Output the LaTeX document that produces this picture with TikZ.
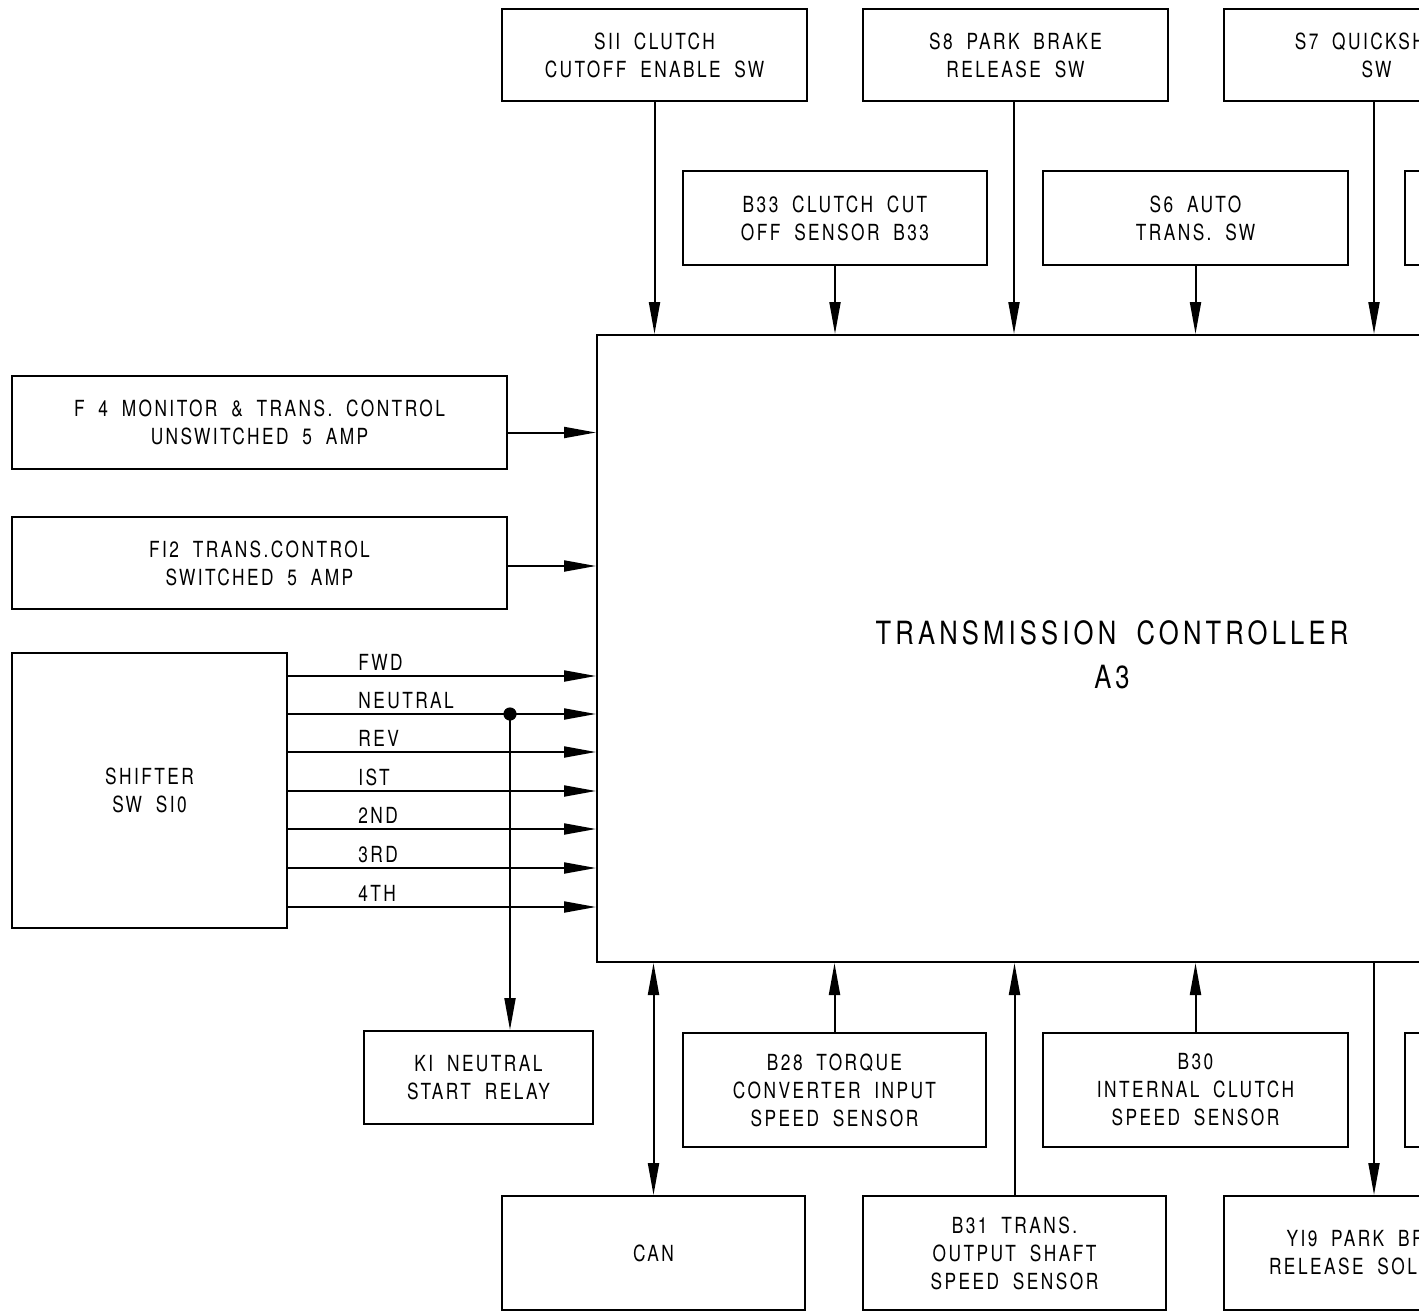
\documentclass[tikz,border=0pt]{standalone}
\usepackage{fontspec}
\setmainfont{TeX Gyre Heros}[FakeStretch=0.78, LetterSpace=11, WordSpace=1.9]
\newfontfamily\titlefont{TeX Gyre Heros}[FakeStretch=0.8, LetterSpace=13, WordSpace=1.8]
\usetikzlibrary{arrows.meta}

\tikzset{
  blk/.style={draw, line width=1pt, align=center, inner sep=0pt,
    font=\fontsize{11.1}{14}\selectfont},
  w305/.style={minimum width=152.5pt},
  lbl/.style={inner sep=0pt, font=\fontsize{11.1}{14}\selectfont},
  sig/.style={line width=1pt, -{Triangle[length=16pt,width=5.5pt]}},
  bus/.style={line width=1pt, {Triangle[length=16pt,width=5.5pt]}-{Triangle[length=16pt,width=5.5pt]}},
}

\begin{document}
\begin{tikzpicture}[x=0.5pt, y=-0.5pt]
\useasboundingbox (0,0) rectangle (1419,1311);
\clip (0,0) rectangle (1419,1311);

% controller
\node[draw, line width=1pt, minimum width=515pt, minimum height=313.5pt] (main) at (1112,648.5) {};
\node[inner sep=0pt, align=center, font=\titlefont\fontsize{16}{22}\selectfont] (title) at (1112,655)
  {TRANSMISSION CONTROLLER\\A3};

% top row inputs
\node[blk, w305, minimum height=46pt] (s11) at (654.5,55) {SII CLUTCH\\CUTOFF ENABLE SW};
\node[blk, w305, minimum height=46pt] (s8) at (1015.5,55) {S8 PARK BRAKE\\RELEASE SW};
\node[blk, w305, minimum height=46pt] (s7) at (1376.5,55) {S7 QUICKSHIFT\\SW};
\node[blk, minimum width=152pt, minimum height=47pt] (b33) at (835,218) {B33 CLUTCH CUT\\OFF SENSOR B33};
\node[blk, w305, minimum height=47pt] (s6) at (1195.5,218) {S6 AUTO\\TRANS. SW};
\node[blk, w305, minimum height=47pt] (rtop) at (1557.5,218) {};

\draw[sig] (s11.south) -- (s11.south |- main.north);
\draw[sig] (b33.south) -- (b33.south |- main.north);
\draw[sig] (s8.south -| 1014,0) -- (1014,0 |- main.north);
\draw[sig] (s6.south) -- (s6.south |- main.north);
\draw[sig] (s7.south -| 1374,0) -- (1374,0 |- main.north);

% fuses
\node[blk, minimum width=247.5pt, minimum height=46.5pt] (f4) at (259.5,422.5) {F 4 MONITOR \& TRANS. CONTROL\\UNSWITCHED 5 AMP};
\node[blk, minimum width=247.5pt, minimum height=46pt] (f12) at (259.5,563) {FI2 TRANS.CONTROL\\SWITCHED 5 AMP};
\draw[sig] ([yshift=-5pt]f4.east) -- ([yshift=-5pt]f4.east -| main.west);
\draw[sig] ([yshift=-1.5pt]f12.east) -- ([yshift=-1.5pt]f12.east -| main.west);

% shifter
\node[blk, minimum width=137.5pt, minimum height=137.5pt] (shift) at (149.5,790.5) {SHIFTER\\SW SI0};
\foreach \n/\yy/\t in {fwd/676/FWD, neu/714/NEUTRAL, rev/752/REV, g1/791/IST, g2/829/2ND, g3/868/3RD, g4/907/4TH}{
  \coordinate (\n) at (shift.east |- 0,\yy);
  \draw[sig] (\n) -- (\n -| main.west);
  \node[lbl, anchor=base west] (l\n) at (358,\yy-6) {\t};
}

% neutral start relay tap
\node[blk, minimum width=114.5pt, minimum height=46.5pt] (k1) at (478.5,1077.5) {KI NEUTRAL\\START RELAY};
\coordinate (tap) at (510,714);
\fill (tap) circle (3.3pt);
\draw[sig] (tap) -- (tap |- k1.north);

% bottom row
\node[blk, minimum width=151.5pt, minimum height=57pt] (b28) at (834.5,1090) {B28 TORQUE\\CONVERTER INPUT\\SPEED SENSOR};
\node[blk, w305, minimum height=57pt] (b30) at (1195.5,1090) {B30\\INTERNAL CLUTCH\\SPEED SENSOR};
\node[blk, w305, minimum height=57pt] (rbot) at (1557.5,1090) {};
\node[blk, minimum width=151.5pt, minimum height=57pt] (can) at (653.5,1253) {CAN};
\node[blk, minimum width=151.5pt, minimum height=57pt] (b31) at (1014.5,1253) {B31 TRANS.\\OUTPUT SHAFT\\SPEED SENSOR};
\node[blk, w305, minimum height=57pt] (y19) at (1376.5,1253) {YI9 PARK BRAKE\\RELEASE SOLENOID};

\draw[sig] (b28.north) -- (b28.north |- main.south);
\draw[sig] (b30.north) -- (b30.north |- main.south);
\draw[bus] (can.north |- main.south) -- (can.north);
\draw[sig] (b31.north) -- (b31.north |- main.south);
\draw[sig] (main.south -| 1374,0) -- (y19.north -| 1374,0);
\end{tikzpicture}
\end{document}
